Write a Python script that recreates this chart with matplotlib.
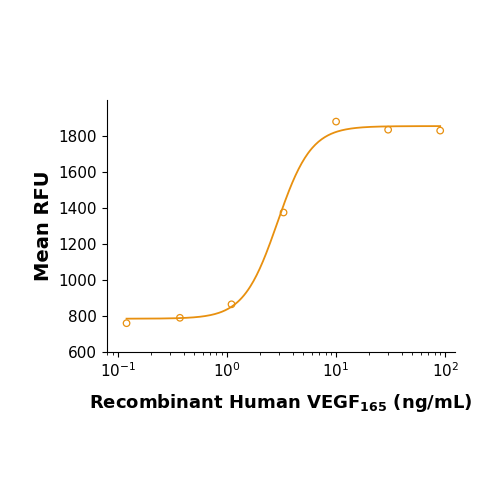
import matplotlib
matplotlib.use("Agg")
import matplotlib.pyplot as plt
import numpy as np

# measured points
conc = [0.12, 0.37, 1.1, 3.3, 10, 30, 90]
rfu = [760, 790, 865, 1375, 1880, 1835, 1830]

# 4PL fit parameters
bottom, top, ec50, hill = 785, 1855, 2.9, 2.8

orange = "#e8900f"
plt.rcParams["font.family"] = ["DejaVu Sans"]

fig = plt.figure(figsize=(5, 5), dpi=100)
ax = fig.add_axes([0.214, 0.296, 0.696, 0.504])

xs = np.logspace(np.log10(0.12), np.log10(90), 300)
ys = bottom + (top - bottom) / (1 + (ec50 / xs) ** hill)
ax.plot(xs, ys, color=orange, lw=1.3)
ax.scatter(conc, rfu, s=22, facecolors="none", edgecolors=orange, linewidths=0.9, zorder=3)

ax.set_xscale("log")
ax.set_xlim(10 ** -1.1, 10 ** 2.09)
ax.set_ylim(600, 2000)
ax.set_yticks(range(600, 1801, 200))
ax.spines["top"].set_visible(False)
ax.spines["right"].set_visible(False)
ax.tick_params(labelsize=11, direction="out")

ax.set_ylabel("Mean RFU", fontsize=14, fontweight="bold")
ax.set_xlabel("Recombinant Human VEGF$_{\\mathbf{165}}$ (ng/mL)", fontsize=13,
              fontweight="bold", labelpad=8)

fig.savefig("out.png", dpi=100)
